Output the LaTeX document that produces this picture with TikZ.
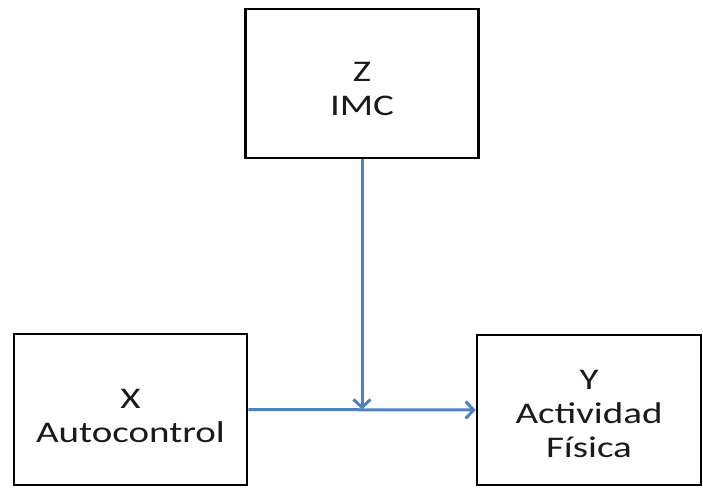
\documentclass[tikz,border=0pt]{standalone}
\usepackage{fontspec}
\setmainfont[FakeStretch=1.3]{Carlito}
\usetikzlibrary{arrows.meta}
\definecolor{arrblue}{HTML}{4F81BD}
\definecolor{txt}{HTML}{1A1A1A}
\tikzset{
  box/.style={draw=black, line width=2.6pt, fill=white, inner sep=0pt},
  lbl/.style={inner sep=0pt, align=center, text=txt, font=\fontsize{30}{34}\selectfont},
  arr/.style={draw=arrblue, line width=3pt,
    -{Straight Barb[length=8pt, width=17pt, line width=3pt]}}
}
\begin{document}
\begin{tikzpicture}[x=1pt, y=-1pt]
\useasboundingbox (0,0) rectangle (703,487);
\node[box, minimum width=233pt, minimum height=149pt] (z) at (362,83.5) {};
\node[box, minimum width=233pt, minimum height=151pt] (x) at (130.5,409.5) {};
\node[box, minimum width=224pt, minimum height=150pt] (y) at (589,410) {};
\node[lbl] (zt) at ([yshift=-5pt]z.center) {Z\\IMC};
\node[lbl] (xt) at ([yshift=-6pt]x.center) {X\\Autocontrol};
\node[lbl] (yt) at ([yshift=-4pt]y.center) {Y\\Actividad\\Física};
\draw[arr] (z.south) -- (z.south |- x.east);
\draw[arr] (x.east) -- (y.west);
\end{tikzpicture}
\end{document}
